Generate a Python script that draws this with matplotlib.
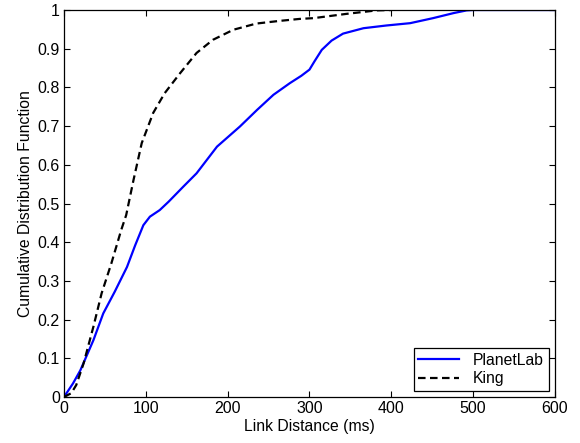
import matplotlib
matplotlib.use("Agg")
import matplotlib.pyplot as plt

plt.rcParams["font.family"] = ["Liberation Sans", "DejaVu Sans"]

# PlanetLab link distance CDF
planetlab_x = [0, 11, 20, 36, 48, 62, 77, 87, 97, 105, 117, 128, 146, 162, 187,
               215, 236, 256, 276, 290, 300, 306, 315, 327, 341, 366, 394, 423,
               451, 476, 492, 500, 600]
planetlab_y = [0.0, 0.035, 0.069, 0.147, 0.216, 0.272, 0.336, 0.392, 0.444, 0.466,
               0.483, 0.505, 0.544, 0.578, 0.647, 0.699, 0.742, 0.781, 0.811, 0.830,
               0.846, 0.867, 0.897, 0.921, 0.939, 0.953, 0.960, 0.966, 0.979, 0.992,
               0.999, 1.0, 1.0]

# King link distance CDF
king_x = [0, 9, 15, 24, 36, 46, 58, 70, 76, 85, 95, 109, 123, 142, 162, 182,
          207, 235, 264, 288, 305, 345, 382, 400]
king_y = [0.0, 0.01, 0.031, 0.087, 0.182, 0.268, 0.346, 0.432, 0.47, 0.561, 0.656,
          0.734, 0.785, 0.837, 0.889, 0.923, 0.949, 0.965, 0.972, 0.977, 0.979,
          0.990, 0.999, 1.0]

fig = plt.figure(figsize=(5.8, 4.43), dpi=100)
ax = fig.add_axes([0.1103, 0.1038, 0.8466, 0.8736])

ax.plot(planetlab_x, planetlab_y, color="#0000ff", lw=1.6, label="PlanetLab")
ax.plot(king_x, king_y, color="black", lw=1.6, linestyle="--", dashes=(3.4, 2.0),
        label="King")

ax.set_xlim(0, 600)
ax.set_ylim(0, 1)
ax.set_xticks(range(0, 601, 100))
ax.set_yticks([i / 10 for i in range(11)])
ax.set_yticklabels(["0", "0.1", "0.2", "0.3", "0.4", "0.5", "0.6", "0.7", "0.8", "0.9", "1"])
ax.tick_params(direction="in", top=True, right=True, length=4, width=0.8,
               labelsize=11.5, pad=3)
for s in ax.spines.values():
    s.set_linewidth(0.9)

ax.set_xlabel("Link Distance (ms)", fontsize=11.3, labelpad=2)
ax.set_ylabel("Cumulative Distribution Function", fontsize=11.3, labelpad=3)

leg = ax.legend(loc="lower right", fontsize=11.3, fancybox=False, framealpha=1,
                edgecolor="black", borderpad=0.3, handlelength=2.6,
                handletextpad=0.9, labelspacing=0.2, borderaxespad=0.4)
leg.get_frame().set_linewidth(0.9)

fig.savefig("out.png", dpi=100)
